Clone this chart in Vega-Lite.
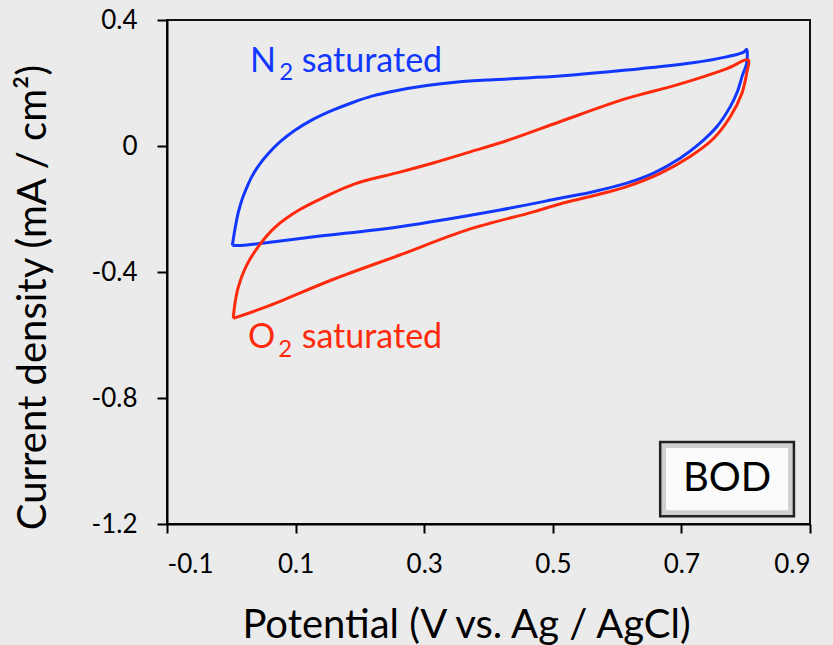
{
  "$schema": "https://vega.github.io/schema/vega-lite/v6.json",
  "width": 643,
  "height": 504,
  "autosize": {"type": "none"},
  "padding": {"left": 167, "top": 20, "right": 23, "bottom": 121},
  "background": "#ebebeb",
  "config": {
    "font": "Lato",
    "view": {"stroke": "#111", "strokeWidth": 2, "fill": "#ebebeb"},
    "axis": {
      "grid": false,
      "domainColor": "#000",
      "domainWidth": 2,
      "tickColor": "#000",
      "tickWidth": 2,
      "labelFont": "Lato",
      "labelFontSize": 26,
      "labelColor": "#000",
      "titleFont": "Lato",
      "titleFontSize": 40,
      "titleFontWeight": "normal",
      "titleColor": "#000"
    }
  },
  "datasets": {
    "cv": [
      {"s": "N2", "i": 0, "x": 0.0016, "y": -0.316},
      {"s": "N2", "i": 1, "x": 0.006, "y": -0.26},
      {"s": "N2", "i": 2, "x": 0.011, "y": -0.21},
      {"s": "N2", "i": 3, "x": 0.0175, "y": -0.165},
      {"s": "N2", "i": 4, "x": 0.0255, "y": -0.125},
      {"s": "N2", "i": 5, "x": 0.0317, "y": -0.098},
      {"s": "N2", "i": 6, "x": 0.042, "y": -0.064},
      {"s": "N2", "i": 7, "x": 0.0576, "y": -0.024},
      {"s": "N2", "i": 8, "x": 0.0757, "y": 0.013},
      {"s": "N2", "i": 9, "x": 0.099, "y": 0.05},
      {"s": "N2", "i": 10, "x": 0.125, "y": 0.082},
      {"s": "N2", "i": 11, "x": 0.156, "y": 0.112},
      {"s": "N2", "i": 12, "x": 0.19, "y": 0.139},
      {"s": "N2", "i": 13, "x": 0.22, "y": 0.159},
      {"s": "N2", "i": 14, "x": 0.2519, "y": 0.174},
      {"s": "N2", "i": 15, "x": 0.3039, "y": 0.192},
      {"s": "N2", "i": 16, "x": 0.3557, "y": 0.204},
      {"s": "N2", "i": 17, "x": 0.43, "y": 0.213},
      {"s": "N2", "i": 18, "x": 0.511, "y": 0.222},
      {"s": "N2", "i": 19, "x": 0.615, "y": 0.241},
      {"s": "N2", "i": 20, "x": 0.718, "y": 0.264},
      {"s": "N2", "i": 21, "x": 0.77, "y": 0.283},
      {"s": "N2", "i": 22, "x": 0.797, "y": 0.298},
      {"s": "N2", "i": 23, "x": 0.8015, "y": 0.307},
      {"s": "N2", "i": 24, "x": 0.8015, "y": 0.263},
      {"s": "N2", "i": 25, "x": 0.795, "y": 0.225},
      {"s": "N2", "i": 26, "x": 0.787, "y": 0.172},
      {"s": "N2", "i": 27, "x": 0.776, "y": 0.125},
      {"s": "N2", "i": 28, "x": 0.755, "y": 0.061},
      {"s": "N2", "i": 29, "x": 0.729, "y": 0.009},
      {"s": "N2", "i": 30, "x": 0.698, "y": -0.039},
      {"s": "N2", "i": 31, "x": 0.656, "y": -0.087},
      {"s": "N2", "i": 32, "x": 0.615, "y": -0.118},
      {"s": "N2", "i": 33, "x": 0.563, "y": -0.145},
      {"s": "N2", "i": 34, "x": 0.511, "y": -0.166},
      {"s": "N2", "i": 35, "x": 0.418, "y": -0.203},
      {"s": "N2", "i": 36, "x": 0.262, "y": -0.256},
      {"s": "N2", "i": 37, "x": 0.138, "y": -0.286},
      {"s": "N2", "i": 38, "x": 0.07, "y": -0.303},
      {"s": "N2", "i": 39, "x": 0.0246, "y": -0.314},
      {"s": "N2", "i": 40, "x": 0.0016, "y": -0.316},
      {"s": "O2", "i": 0, "x": 0.003, "y": -0.547},
      {"s": "O2", "i": 1, "x": 0.006, "y": -0.495},
      {"s": "O2", "i": 2, "x": 0.011, "y": -0.447},
      {"s": "O2", "i": 3, "x": 0.024, "y": -0.378},
      {"s": "O2", "i": 4, "x": 0.0446, "y": -0.312},
      {"s": "O2", "i": 5, "x": 0.068, "y": -0.258},
      {"s": "O2", "i": 6, "x": 0.104, "y": -0.205},
      {"s": "O2", "i": 7, "x": 0.146, "y": -0.161},
      {"s": "O2", "i": 8, "x": 0.192, "y": -0.12},
      {"s": "O2", "i": 9, "x": 0.262, "y": -0.083},
      {"s": "O2", "i": 10, "x": 0.314, "y": -0.054},
      {"s": "O2", "i": 11, "x": 0.366, "y": -0.022},
      {"s": "O2", "i": 12, "x": 0.433, "y": 0.02},
      {"s": "O2", "i": 13, "x": 0.511, "y": 0.077},
      {"s": "O2", "i": 14, "x": 0.615, "y": 0.151},
      {"s": "O2", "i": 15, "x": 0.693, "y": 0.194},
      {"s": "O2", "i": 16, "x": 0.77, "y": 0.245},
      {"s": "O2", "i": 17, "x": 0.804, "y": 0.273},
      {"s": "O2", "i": 18, "x": 0.8015, "y": 0.231},
      {"s": "O2", "i": 19, "x": 0.794, "y": 0.167},
      {"s": "O2", "i": 20, "x": 0.776, "y": 0.093},
      {"s": "O2", "i": 21, "x": 0.75, "y": 0.024},
      {"s": "O2", "i": 22, "x": 0.713, "y": -0.034},
      {"s": "O2", "i": 23, "x": 0.667, "y": -0.087},
      {"s": "O2", "i": 24, "x": 0.615, "y": -0.129},
      {"s": "O2", "i": 25, "x": 0.563, "y": -0.158},
      {"s": "O2", "i": 26, "x": 0.511, "y": -0.184},
      {"s": "O2", "i": 27, "x": 0.47, "y": -0.209},
      {"s": "O2", "i": 28, "x": 0.366, "y": -0.267},
      {"s": "O2", "i": 29, "x": 0.262, "y": -0.346},
      {"s": "O2", "i": 30, "x": 0.159, "y": -0.423},
      {"s": "O2", "i": 31, "x": 0.055, "y": -0.51},
      {"s": "O2", "i": 32, "x": 0.003, "y": -0.547}
    ],
    "labels": [
      {"s": "N2", "t": "N", "x": 0.029, "y": 0.236},
      {"s": "N2", "t": "saturated", "x": 0.1095, "y": 0.236},
      {"s": "O2", "t": "O", "x": 0.026, "y": -0.642},
      {"s": "O2", "t": "saturated", "x": 0.1095, "y": -0.642}
    ],
    "subs": [
      {"s": "N2", "t": "2", "x": 0.0746, "y": 0.2095},
      {"s": "O2", "t": "2", "x": 0.0731, "y": -0.669}
    ],
    "box": [
      {"x": 0.667, "x2": 0.875, "y": -0.94, "y2": -1.175}
    ],
    "boxin": [
      {"x": 0.676, "x2": 0.866, "y": -0.959, "y2": -1.156}
    ],
    "boxtext": [
      {"t": "BOD", "x": 0.771, "y": -1.058}
    ]
  },
  "layer": [
    {
      "data": {"name": "cv"},
      "mark": {"type": "line", "strokeWidth": 3, "strokeJoin": "round", "interpolate": "catmull-rom"},
      "encoding": {
        "x": {
          "field": "x", "type": "quantitative",
          "scale": {"domain": [-0.1, 0.9], "nice": false, "zero": false},
          "axis": {
            "values": [-0.1, 0.1, 0.3, 0.5, 0.7, 0.9],
            "labelExpr": "(datum.value < -0.0001 ? '-' : '') + format(abs(datum.value), '.1f')",
            "tickSize": 9,
            "labelPadding": 18,
            "title": "Potential (V vs. Ag / AgCl)",
            "titleX": 299,
            "titleY": 113,
            "titleAlign": "center",
            "titleBaseline": "alphabetic"
          }
        },
        "y": {
          "field": "y", "type": "quantitative",
          "scale": {"domain": [-1.2, 0.4], "nice": false, "zero": false},
          "axis": {
            "values": [-1.2, -0.8, -0.4, 0, 0.4],
            "labelExpr": "abs(datum.value) < 0.0001 ? '0' : (datum.value < 0 ? '-' : '') + format(abs(datum.value), '.1f')",
            "tickSize": 10,
            "labelPadding": 20,
            "title": "Current density (mA / cm²)",
            "titleX": -122,
            "titleY": 277,
            "titleAngle": -90,
            "titleAlign": "center",
            "titleBaseline": "alphabetic"
          }
        },
        "color": {
          "field": "s", "type": "nominal",
          "scale": {"domain": ["N2", "O2"], "range": ["#1238ff", "#ff2a0c"]},
          "legend": null
        },
        "order": {"field": "i", "type": "quantitative"}
      }
    },
    {
      "data": {"name": "labels"},
      "mark": {"type": "text", "align": "left", "baseline": "alphabetic", "fontSize": 34, "font": "Lato"},
      "encoding": {
        "x": {"field": "x", "type": "quantitative"},
        "y": {"field": "y", "type": "quantitative"},
        "text": {"field": "t"},
        "color": {"field": "s", "type": "nominal", "legend": null}
      }
    },
    {
      "data": {"name": "subs"},
      "mark": {"type": "text", "align": "left", "baseline": "alphabetic", "fontSize": 24, "font": "Lato"},
      "encoding": {
        "x": {"field": "x", "type": "quantitative"},
        "y": {"field": "y", "type": "quantitative"},
        "text": {"field": "t"},
        "color": {"field": "s", "type": "nominal", "legend": null}
      }
    },
    {
      "data": {"name": "box"},
      "mark": {"type": "rect", "fill": "#cfcfcf", "stroke": "#222", "strokeWidth": 2.5},
      "encoding": {
        "x": {"field": "x", "type": "quantitative"},
        "x2": {"field": "x2"},
        "y": {"field": "y", "type": "quantitative"},
        "y2": {"field": "y2"}
      }
    },
    {
      "data": {"name": "boxin"},
      "mark": {"type": "rect", "fill": "#fbfbfb"},
      "encoding": {
        "x": {"field": "x", "type": "quantitative"},
        "x2": {"field": "x2"},
        "y": {"field": "y", "type": "quantitative"},
        "y2": {"field": "y2"}
      }
    },
    {
      "data": {"name": "boxtext"},
      "mark": {"type": "text", "align": "center", "baseline": "middle", "fontSize": 40, "font": "Lato", "color": "#000"},
      "encoding": {
        "x": {"field": "x", "type": "quantitative"},
        "y": {"field": "y", "type": "quantitative"},
        "text": {"field": "t"}
      }
    }
  ]
}
